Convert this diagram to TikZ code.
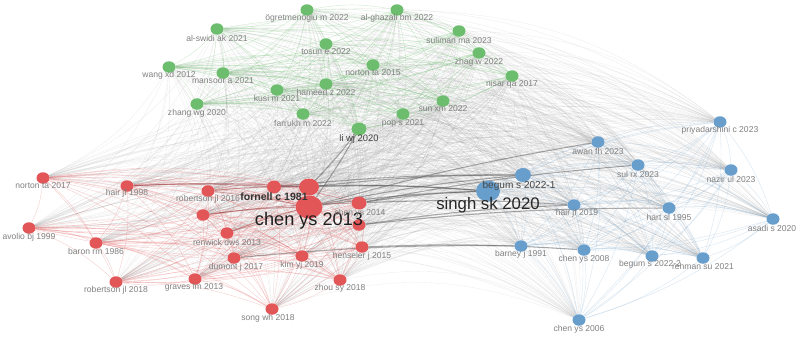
\documentclass[tikz,border=0pt]{standalone}
\usepackage{fontspec}
\setmainfont{Liberation Sans}
\usetikzlibrary{shapes.geometric,backgrounds}
\definecolor{gcol}{RGB}{108,190,110}
\definecolor{rcol}{RGB}{226,86,88}
\definecolor{bcol}{RGB}{104,158,204}
\definecolor{labcol}{RGB}{128,128,128}
\definecolor{ecol}{RGB}{150,150,150}
\begin{document}
\begin{tikzpicture}[x=0.03cm,y=-0.03cm,
 nd/.style={ellipse,inner sep=0pt,minimum width=13*0.03cm,minimum height=11.5*0.03cm},
 gn/.style={nd,fill=gcol},
 rn/.style={nd,fill=rcol},
 bn/.style={nd,fill=bcol},
 sz/.style 2 args={minimum width=#1*0.03cm,minimum height=#2*0.03cm},
 lab/.style={inner sep=0pt,text=labcol,font=\fontsize{7.3}{8}\selectfont},
 gedge/.style={draw=gcol,opacity=0.30,line width=0.35pt},
 redge/.style={draw=rcol,opacity=0.28,line width=0.35pt},
 bedge/.style={draw=bcol,opacity=0.25,line width=0.35pt},
 xedge/.style={draw=ecol,opacity=0.16,line width=0.3pt},
 dedge/.style={draw=black!70,opacity=0.45,line width=0.9pt},
 dredge/.style={draw=rcol!70!black,opacity=0.45,line width=0.8pt}
]
\useasboundingbox (0,0) rectangle (797,336);
% ---------- green cluster
\node[gn] (g1) at (307,10) {};
\node[gn] (g2) at (397,10) {};
\node[gn] (g3) at (217,29) {};
\node[gn] (g4) at (459,31) {};
\node[gn] (g5) at (326,44) {};
\node[gn] (g6) at (479,53) {};
\node[gn] (g7) at (169,67) {};
\node[gn] (g8) at (223,73) {};
\node[gn] (g9) at (373,65) {};
\node[gn] (g10) at (512,76) {};
\node[gn] (g11) at (277,90) {};
\node[gn] (g12) at (326,84) {};
\node[gn] (g13) at (197,104) {};
\node[gn] (g14) at (443,101) {};
\node[gn] (g15) at (303,114) {};
\node[gn] (g16) at (403,114) {};
\node[gn,sz={15}{13}] (g17) at (359,129) {};
% ---------- red cluster
\node[rn] (r1) at (43,178) {};
\node[rn] (r2) at (127,186) {};
\node[rn] (r3) at (208,191) {};
\node[rn,sz={14}{13}] (r4) at (274,187) {};
\node[rn,sz={20}{17}] (r5) at (309,187) {};
\node[rn,sz={27}{23}] (r6) at (309,207) {};
\node[rn,sz={15}{13}] (r7) at (359,203) {};
\node[rn] (r8) at (359,225) {};
\node[rn] (r9) at (203,215) {};
\node[rn] (r10) at (362,247) {};
\node[rn] (r11) at (29,228) {};
\node[rn] (r12) at (227,233) {};
\node[rn] (r13) at (96,243) {};
\node[rn] (r14) at (234,258) {};
\node[rn] (r15) at (302,256) {};
\node[rn] (r16) at (195,279) {};
\node[rn] (r17) at (116,282) {};
\node[rn] (r18) at (340,280) {};
\node[rn] (r19) at (272,309) {};
% ---------- blue cluster
\node[bn,sz={24}{21}] (b1) at (488,191) {};
\node[bn,sz={16}{14}] (b2) at (523,175) {};
\node[bn] (b3) at (598,142) {};
\node[bn] (b4) at (720,122) {};
\node[bn] (b5) at (638,165) {};
\node[bn] (b6) at (731,170) {};
\node[bn] (b7) at (574,205) {};
\node[bn] (b8) at (669,208) {};
\node[bn] (b9) at (773,219) {};
\node[bn] (b10) at (521,246) {};
\node[bn] (b11) at (584,250) {};
\node[bn] (b12) at (652,256) {};
\node[bn] (b13) at (703,258) {};
\node[bn] (b14) at (579,320) {};
% ---------- edges
\begin{pgfonlayer}{background}
\fill[white] (0,0) rectangle (797,336);
\foreach \i in {1,...,17}{\foreach \j in {1,...,19}{\draw[xedge] (g\i) to[bend left=16] (r\j);}}
\foreach \i in {1,...,17}{\foreach \j in {1,...,14}{\draw[xedge] (g\i) to[bend left=18] (b\j);}}
\foreach \i in {1,...,19}{\foreach \j in {1,...,14}{\draw[xedge] (r\i) to[bend left=20] (b\j);}}
\foreach \i in {1,...,17}{\foreach \j in {1,...,17}{\ifnum\i<\j \draw[gedge] (g\i) to[bend left=10] (g\j);\fi}}
\foreach \i in {1,...,19}{\foreach \j in {1,...,19}{\ifnum\i<\j \draw[redge] (r\i) to[bend left=10] (r\j);\fi}}
\foreach \i in {1,...,14}{\foreach \j in {1,...,14}{\ifnum\i<\j \draw[bedge] (b\i) to[bend left=10] (b\j);\fi}}
\foreach \a/\b in {r4/b1,r5/b1,r6/b1,r7/b1,r5/b2,r6/b2,r7/b7,r8/b8,r6/b3,r14/b10,r10/b11,g17/r6,g17/r5,r7/b5,r4/b2,r8/b7}{\draw[dedge] (\a) to[bend left=3] (\b);}
\foreach \a/\b in {r2/r4,r2/r5,r3/r6,r9/r6,r3/r5,r9/r7,r12/r6}{\draw[dredge] (\a) to[bend left=3] (\b);}
\end{pgfonlayer}
% ---------- labels
\node[lab] (g1l) at (307,18) {ögretmenoglu m 2022};
\node[lab] (g2l) at (397,18) {al-ghazali bm 2022};
\node[lab] (g3l) at (217,38) {al-swidi ak 2021};
\node[lab] (g4l) at (459,40) {suliman ma 2023};
\node[lab] (g5l) at (326,52) {tosun e 2022};
\node[lab] (g6l) at (479,62) {zhag w 2022};
\node[lab] (g7l) at (169,75) {wang xd 2012};
\node[lab] (g8l) at (223,81) {mansoor a 2021};
\node[lab] (g9l) at (373,73) {norton ta 2015};
\node[lab] (g10l) at (512,84) {nisar qa 2017};
\node[lab] (g11l) at (277,98) {kusi m 2021};
\node[lab] (g12l) at (326,92) {hameed z 2022};
\node[lab] (g13l) at (197,113) {zhang wg 2020};
\node[lab] (g14l) at (443,109) {sun xm 2022};
\node[lab] (g15l) at (303,123) {farrukh m 2022};
\node[lab] (g16l) at (403,123) {pop s 2021};
\node[lab,text=black!75,font=\fontsize{8}{9}\selectfont] (g17l) at (359,139) {li wj 2020};
\node[lab] (r1l) at (43,186) {norton ta 2017};
\node[lab] (r2l) at (127,193) {hair jf 1998};
\node[lab] (r3l) at (208,199) {robertson jl 2016};
\node[lab,text=black!80,font=\fontsize{9}{10}\selectfont\bfseries] (r4l) at (274,197) {fornell c 1981};
\node[lab,text=black!88,font=\fontsize{15.5}{17}\selectfont] (r6l) at (309,221) {chen ys 2013};
\node[lab] (r7l) at (360,213) {chen ys 2014};
\node[lab] (r10l) at (362,256) {henseler j 2015};
\node[lab] (r11l) at (29,237) {avolio bj 1999};
\node[lab] (r12l) at (227,242) {renwick dws 2013};
\node[lab] (r13l) at (96,251) {baron rm 1986};
\node[lab] (r14l) at (236,267) {dumont j 2017};
\node[lab] (r15l) at (302,265) {kim yj 2019};
\node[lab] (r16l) at (194,287) {graves lm 2013};
\node[lab] (r17l) at (116,290) {robertson jl 2018};
\node[lab] (r18l) at (340,288) {zhou sy 2018};
\node[lab] (r19l) at (268,318) {song wh 2018};
\node[lab,text=black!85,font=\fontsize{14.3}{16}\selectfont] (b1l) at (488,205) {singh sk 2020};
\node[lab,text=black!72,font=\fontsize{8.6}{10}\selectfont] (b2l) at (519,186) {begum s 2022-1};
\node[lab] (b3l) at (598,151) {awan fh 2023};
\node[lab] (b4l) at (720,130) {priyadarshini c 2023};
\node[lab] (b5l) at (638,174) {sul rx 2023};
\node[lab] (b6l) at (731,179) {nazir ul 2023};
\node[lab] (b7l) at (577,213) {hair jf 2019};
\node[lab] (b8l) at (669,217) {hart sl 1995};
\node[lab] (b9l) at (772,228) {asadi s 2020};
\node[lab] (b10l) at (521,254) {barney j 1991};
\node[lab] (b11l) at (584,259) {chen ys 2008};
\node[lab] (b12l) at (650,264) {begum s 2022-2};
\node[lab] (b13l) at (703,266) {rehman su 2021};
\node[lab] (b14l) at (579,329) {chen ys 2006};
\end{tikzpicture}
\end{document}
